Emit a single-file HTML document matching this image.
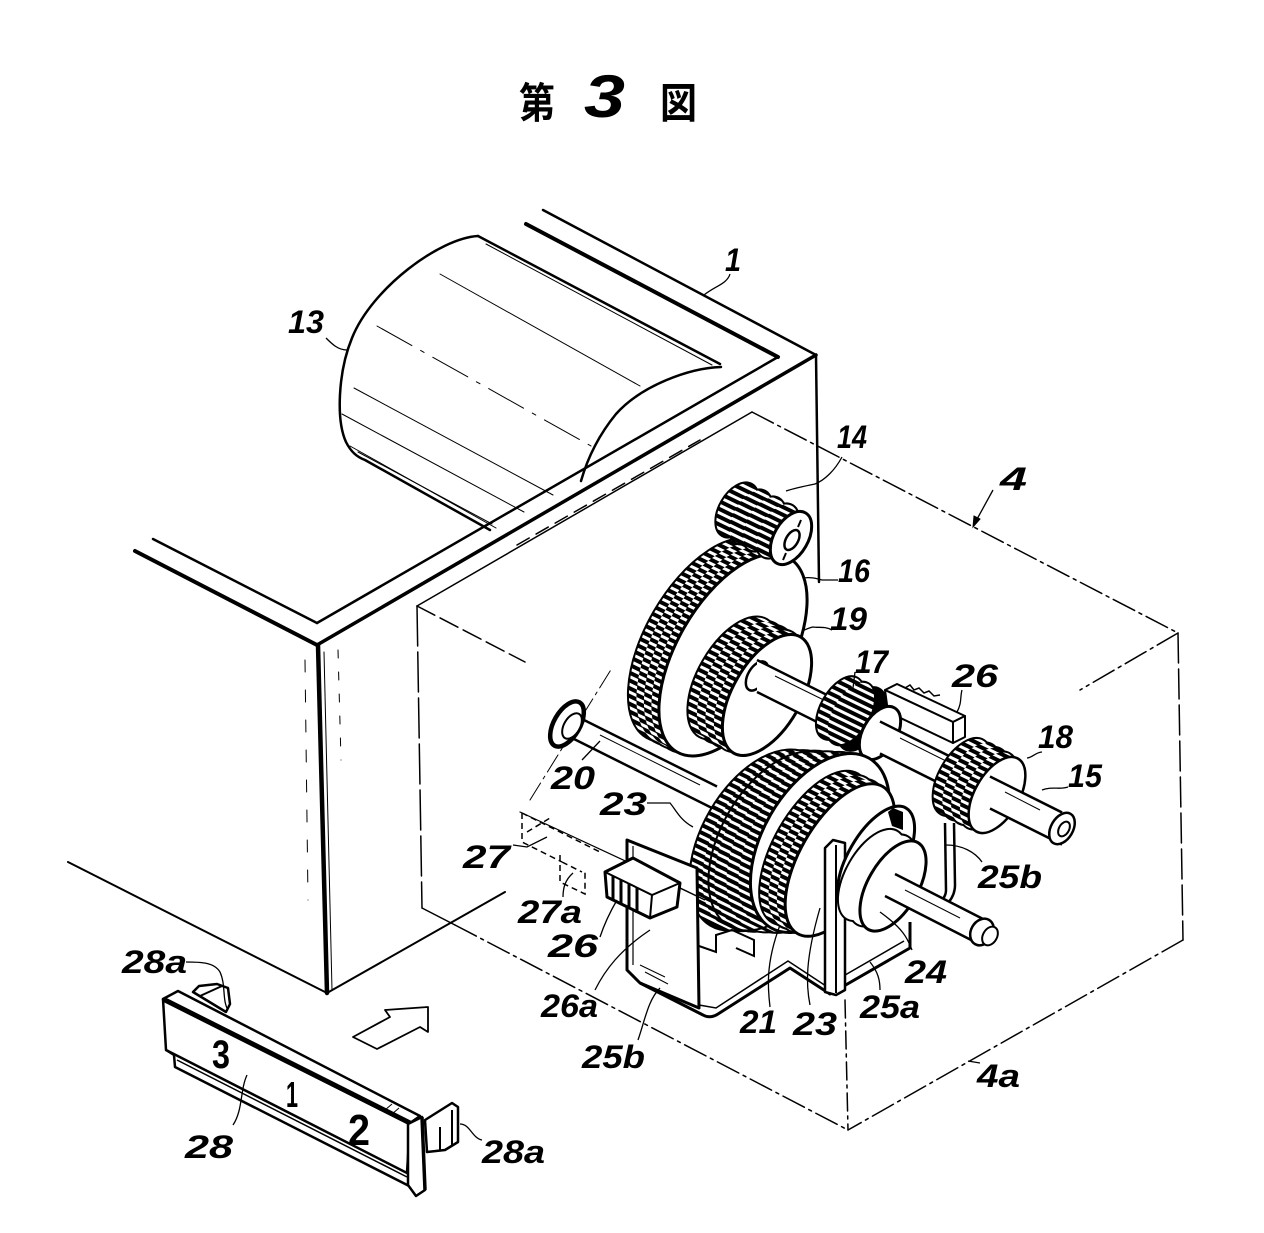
<!DOCTYPE html>
<html><head><meta charset="utf-8">
<style>
html,body{margin:0;padding:0;background:#fff;width:1264px;height:1233px;overflow:hidden}
svg{display:block}
.l{font-family:"Liberation Sans",sans-serif;font-weight:bold;font-style:italic;font-size:32px;fill:#000}
</style></head>
<body>
<svg width="1264" height="1233" viewBox="0 0 1264 1233" xmlns="http://www.w3.org/2000/svg">
<defs>
<pattern id="t" width="7" height="7" patternUnits="userSpaceOnUse" patternTransform="rotate(-4)">
<rect width="7" height="7" fill="#000"/>
<rect y="2" width="7" height="3" fill="#fff"/>
</pattern>
</defs>
<rect width="1264" height="1233" fill="#fff"/>

<!-- Title -->
<text x="519" y="118" font-family="'Liberation Sans','Noto Sans CJK JP',sans-serif" font-weight="bold" font-size="42" textLength="36" lengthAdjust="spacingAndGlyphs">第</text>
<text x="584" y="117" font-family="'Liberation Sans',sans-serif" font-style="italic" font-weight="bold" font-size="60" textLength="41" lengthAdjust="spacingAndGlyphs">3</text>
<text x="660" y="118" font-family="'Liberation Sans','Noto Sans CJK JP',sans-serif" font-weight="bold" font-size="42" textLength="37" lengthAdjust="spacingAndGlyphs">図</text>

<g fill="none" stroke="#000" stroke-linecap="round" stroke-linejoin="round">
<!-- Box 4 (dash-dot outline) -->
<g stroke-width="1.5">
<path d="M417,606 L752,412"/>
<path d="M752,412 L1178,633" stroke-dasharray="24 5 3 5"/>
<path d="M1178,633 L1183,940" stroke-dasharray="30 6"/>
<path d="M1178,633 L1080,690" stroke-dasharray="24 5 3 5"/>
<path d="M1183,940 L848,1130" stroke-dasharray="24 5 3 5"/>
<path d="M845,1000 L848,1130" stroke-dasharray="18 5 3 5"/>
<path d="M422,908 L455,925"/>
<path d="M455,925 L848,1130" stroke-dasharray="24 5 3 5"/>
<path d="M417,606 L422,908" stroke-dasharray="40 6"/>
<path d="M417,606 L525,662" stroke-dasharray="20 6"/>
<path d="M517,545 L700,440" stroke-dasharray="14 8"/>
<path d="M530,800 L612,668" stroke-dasharray="20 5 3 5" stroke-width="1"/>
<path d="M520,812 L705,898" stroke-width="1.2"/>
</g>

<!-- Box 1 -->
<path d="M543,210 L816,355" stroke-width="2.5"/>
<path d="M317,645 L816,355" stroke-width="3.5"/>
<path d="M135,551 L317,645" stroke-width="4"/>
<path d="M153,539 L317,623" stroke-width="2.5"/>
<path d="M317,623 L778,357" stroke-width="2.5"/>
<path d="M526,224 L778,357" stroke-width="4"/>
<path d="M816,355 L819,582" stroke-width="2.5"/>
<path d="M318,645 L327,993" stroke-width="4.5"/>
<path d="M324,652 L332,990" stroke-width="1"/>
<path d="M68,862 L327,993" stroke-width="2"/>
<path d="M327,993 L505,892" stroke-width="2"/>
<path d="M305,660 L308,900" stroke-width="1" stroke-dasharray="12 18"/>
<path d="M338,650 L341,760" stroke-width="1" stroke-dasharray="8 14"/>

<!-- Cylinder 13 -->
<path d="M478,236 C440,238 372,288 352,338 C338,372 336,420 346,442 C351,452 357,457 365,460 L490,530" stroke-width="2.5"/>
<path d="M478,236 L720,364" stroke-width="2.5"/>
<path d="M486,244 L712,365" stroke-width="1"/>
<path d="M721,367 C690,368 642,385 616,414 C598,436 587,460 581,481" stroke-width="2.5"/>
<g stroke-width="1">
<path d="M440,274 L640,386"/>
<path d="M377,326 L591,446" stroke-dasharray="40 10 4 10"/>
<path d="M354,388 L553,495"/>
<path d="M342,414 L524,512"/>
<path d="M350,446 L496,528"/>
<path d="M358,452 L492,524"/>
</g>
</g>

<!-- Gear 16 -->
<g stroke="#000" stroke-width="4" fill="#000">
<ellipse cx="703" cy="640" rx="56" ry="112" transform="rotate(30 703 640)"/>
<ellipse cx="710.5" cy="643.75" rx="56" ry="112" transform="rotate(30 710.5 643.75)"/>
<ellipse cx="718" cy="647.5" rx="56" ry="112" transform="rotate(30 718 647.5)"/>
<ellipse cx="725.5" cy="651.25" rx="56" ry="112" transform="rotate(30 725.5 651.25)"/>
</g>
<g fill="url(#t)">
<ellipse cx="703" cy="640" rx="56" ry="112" transform="rotate(30 703 640)"/>
<ellipse cx="710.5" cy="643.75" rx="56" ry="112" transform="rotate(30 710.5 643.75)"/>
<ellipse cx="718" cy="647.5" rx="56" ry="112" transform="rotate(30 718 647.5)"/>
<ellipse cx="725.5" cy="651.25" rx="56" ry="112" transform="rotate(30 725.5 651.25)"/>
</g>
<ellipse cx="733" cy="655" rx="56" ry="112" transform="rotate(30 733 655)" fill="#fff" stroke="#000" stroke-width="3"/>

<!-- Pinion 14 -->
<g stroke="#000" stroke-width="4" fill="#000">
<ellipse cx="737" cy="510" rx="17" ry="29" transform="rotate(30 737 510)"/>
<ellipse cx="750.5" cy="517" rx="17" ry="29" transform="rotate(30 750.5 517)"/>
<ellipse cx="764" cy="524" rx="17" ry="29" transform="rotate(30 764 524)"/>
<ellipse cx="777.5" cy="531" rx="17" ry="29" transform="rotate(30 777.5 531)"/>
</g>
<g fill="url(#t)">
<ellipse cx="737" cy="510" rx="17" ry="29" transform="rotate(30 737 510)"/>
<ellipse cx="750.5" cy="517" rx="17" ry="29" transform="rotate(30 750.5 517)"/>
<ellipse cx="764" cy="524" rx="17" ry="29" transform="rotate(30 764 524)"/>
<ellipse cx="777.5" cy="531" rx="17" ry="29" transform="rotate(30 777.5 531)"/>
</g>
<ellipse cx="791" cy="538" rx="17" ry="29" transform="rotate(30 791 538)" fill="#fff" stroke="#000" stroke-width="3"/>
<ellipse cx="792" cy="540" rx="6" ry="11" transform="rotate(30 792 540)" fill="#fff" stroke="#000" stroke-width="2.5"/>
<path d="M786,553 L783,560 M798,527 L801,520" stroke="#000" stroke-width="2"/>

<!-- Gear 19 -->
<g stroke="#000" stroke-width="4" fill="#000">
<ellipse cx="733" cy="678" rx="34" ry="67" transform="rotate(30 733 678)"/>
<ellipse cx="741.5" cy="682.3" rx="34" ry="67" transform="rotate(30 741.5 682.3)"/>
<ellipse cx="750" cy="686.5" rx="34" ry="67" transform="rotate(30 750 686.5)"/>
<ellipse cx="758.5" cy="690.8" rx="34" ry="67" transform="rotate(30 758.5 690.8)"/>
</g>
<g fill="url(#t)">
<ellipse cx="733" cy="678" rx="34" ry="67" transform="rotate(30 733 678)"/>
<ellipse cx="741.5" cy="682.3" rx="34" ry="67" transform="rotate(30 741.5 682.3)"/>
<ellipse cx="750" cy="686.5" rx="34" ry="67" transform="rotate(30 750 686.5)"/>
<ellipse cx="758.5" cy="690.8" rx="34" ry="67" transform="rotate(30 758.5 690.8)"/>
</g>
<ellipse cx="767" cy="695" rx="34" ry="67" transform="rotate(30 767 695)" fill="#fff" stroke="#000" stroke-width="3"/>

<!-- Shaft 15 -->
<ellipse cx="757" cy="676" rx="9" ry="16" transform="rotate(30 757 676)" fill="#fff" stroke="#000" stroke-width="2.5"/>
<polygon points="757,660 1062,812.5 1062,844.5 757,692" fill="#fff"/>
<path d="M757,660 L1062,812.5 M757,692 L1062,844.5" stroke="#000" stroke-width="2.5" fill="none"/>
<path d="M775,676 L840,708" stroke="#000" stroke-width="1" fill="none"/>

<!-- Gear 17 -->
<g stroke="#000" stroke-width="4" fill="#000">
<ellipse cx="840" cy="708" rx="18" ry="34" transform="rotate(30 840 708)"/>
<ellipse cx="851" cy="713.5" rx="18" ry="34" transform="rotate(30 851 713.5)"/>
<ellipse cx="862" cy="719" rx="18" ry="34" transform="rotate(30 862 719)"/>
</g>
<g fill="url(#t)">
<ellipse cx="840" cy="708" rx="18" ry="34" transform="rotate(30 840 708)"/>
<ellipse cx="851" cy="713.5" rx="18" ry="34" transform="rotate(30 851 713.5)"/>
</g>

<!-- Block 26 (upper) -->
<g fill="#fff" stroke="#000" stroke-width="2" stroke-linejoin="round">
<polygon points="885,690 897,684 965,716 953,722"/>
<polygon points="885,690 953,722 953,743 888,712"/>
<polygon points="953,722 965,716 965,737 953,743"/>
</g>
<path d="M905,688 L910,685 L914,690 L919,688 L924,693 L929,691 L934,696 L940,695" stroke="#000" stroke-width="1.5" fill="none"/>

<!-- Collar -->
<ellipse cx="880" cy="733" rx="17" ry="29" transform="rotate(30 880 733)" fill="#fff" stroke="#000" stroke-width="3"/>
<polygon points="880,721.5 990,776.5 990,808.5 880,753.5" fill="#fff"/>
<path d="M880,721.5 L990,776.5 M880,753.5 L990,808.5" stroke="#000" stroke-width="2.5" fill="none"/>
<path d="M900,738 L950,763" stroke="#000" stroke-width="1" fill="none"/>

<!-- Gear 18 -->
<g stroke="#000" stroke-width="4" fill="#000">
<ellipse cx="962" cy="777" rx="22" ry="42" transform="rotate(30 962 777)"/>
<ellipse cx="970.75" cy="781.5" rx="22" ry="42" transform="rotate(30 970.75 781.5)"/>
<ellipse cx="979.5" cy="786" rx="22" ry="42" transform="rotate(30 979.5 786)"/>
<ellipse cx="988.25" cy="790.5" rx="22" ry="42" transform="rotate(30 988.25 790.5)"/>
</g>
<g fill="url(#t)">
<ellipse cx="962" cy="777" rx="22" ry="42" transform="rotate(30 962 777)"/>
<ellipse cx="970.75" cy="781.5" rx="22" ry="42" transform="rotate(30 970.75 781.5)"/>
<ellipse cx="979.5" cy="786" rx="22" ry="42" transform="rotate(30 979.5 786)"/>
<ellipse cx="988.25" cy="790.5" rx="22" ry="42" transform="rotate(30 988.25 790.5)"/>
</g>
<ellipse cx="997" cy="795" rx="22" ry="42" transform="rotate(30 997 795)" fill="#fff" stroke="#000" stroke-width="2.5"/>
<polygon points="990,776.5 1062,812.5 1062,844.5 990,808.5" fill="#fff"/>
<path d="M990,776.5 L1062,812.5 M990,808.5 L1062,844.5" stroke="#000" stroke-width="2.5" fill="none"/>
<path d="M1005,792 L1040,810" stroke="#000" stroke-width="1" fill="none"/>
<ellipse cx="1062" cy="828.5" rx="11" ry="17" transform="rotate(30 1062 828.5)" fill="#fff" stroke="#000" stroke-width="2.5"/>
<ellipse cx="1064" cy="829" rx="5" ry="8" transform="rotate(30 1064 829)" fill="#fff" stroke="#000" stroke-width="2"/>

<!-- Rod 20 -->
<polygon points="570,713 717,786.5 717,810.5 570,737" fill="#fff"/>
<path d="M570,713 L717,786.5 M570,737 L717,810.5" stroke="#000" stroke-width="2.5" fill="none"/>
<path d="M600,735 L700,785" stroke="#000" stroke-width="1" fill="none"/>
<ellipse cx="567" cy="724" rx="13" ry="25" transform="rotate(30 567 724)" fill="#fff" stroke="#000" stroke-width="4.5"/>
<ellipse cx="572" cy="726" rx="8" ry="14" transform="rotate(30 572 726)" fill="#fff" stroke="#000" stroke-width="2"/>

<!-- Dashed 27 -->
<g fill="none" stroke="#000" stroke-width="1.5" stroke-dasharray="6 4">
<path d="M522,813 L522,842 L562,862"/>
<path d="M522,813 L600,852"/>
<path d="M527,832 L550,818"/>
<path d="M560,855 L560,882 L585,894 L585,870"/>
<path d="M562,862 L582,872"/>
</g>

<!-- Gear 23 -->
<g stroke="#000" stroke-width="4" fill="#000">
<ellipse cx="760" cy="840" rx="57" ry="98" transform="rotate(30 760 840)"/>
<ellipse cx="772" cy="840.6" rx="57" ry="98" transform="rotate(30 772 840.6)"/>
<ellipse cx="784" cy="841.2" rx="57" ry="98" transform="rotate(30 784 841.2)"/>
<ellipse cx="796" cy="841.8" rx="57" ry="98" transform="rotate(30 796 841.8)"/>
<ellipse cx="808" cy="842.4" rx="57" ry="98" transform="rotate(30 808 842.4)"/>
</g>
<g fill="url(#t)">
<ellipse cx="760" cy="840" rx="57" ry="98" transform="rotate(30 760 840)"/>
<ellipse cx="772" cy="840.6" rx="57" ry="98" transform="rotate(30 772 840.6)"/>
<ellipse cx="784" cy="841.2" rx="57" ry="98" transform="rotate(30 784 841.2)"/>
<ellipse cx="796" cy="841.8" rx="57" ry="98" transform="rotate(30 796 841.8)"/>
<ellipse cx="808" cy="842.4" rx="57" ry="98" transform="rotate(30 808 842.4)"/>
</g>
<ellipse cx="778" cy="841" rx="57" ry="98" transform="rotate(30 778 841)" fill="none" stroke="#000" stroke-width="2"/>
<ellipse cx="820" cy="843" rx="57" ry="98" transform="rotate(30 820 843)" fill="#fff" stroke="#000" stroke-width="3"/>

<!-- Gear 21 -->
<g stroke="#000" stroke-width="4" fill="#000">
<ellipse cx="815" cy="848" rx="40" ry="85" transform="rotate(30 815 848)"/>
<ellipse cx="823.3" cy="852" rx="40" ry="85" transform="rotate(30 823.3 852)"/>
<ellipse cx="831.7" cy="856" rx="40" ry="85" transform="rotate(30 831.7 856)"/>
</g>
<g fill="url(#t)">
<ellipse cx="815" cy="848" rx="40" ry="85" transform="rotate(30 815 848)"/>
<ellipse cx="823.3" cy="852" rx="40" ry="85" transform="rotate(30 823.3 852)"/>
<ellipse cx="831.7" cy="856" rx="40" ry="85" transform="rotate(30 831.7 856)"/>
</g>
<ellipse cx="840" cy="860" rx="40" ry="85" transform="rotate(30 840 860)" fill="#fff" stroke="#000" stroke-width="3"/>

<!-- Bracket 25a / 25b -->
<polygon points="627,840 697,868 699,1008 640,983 627,970" fill="#fff" stroke="#000" stroke-width="3" stroke-linejoin="round"/>
<path d="M633,846 L633,965" stroke="#000" stroke-width="1.2" fill="none"/>
<path d="M640,983 L703,1015 Q710,1019 718,1014 L790,968 L830,994 L910,948 L910,922" stroke="#000" stroke-width="3" fill="none" stroke-linejoin="round"/>
<path d="M699,1005 L716,1008 L788,961 L826,986 L904,941" stroke="#000" stroke-width="1.5" fill="none"/>
<path d="M699,946 L716,952 L716,935 L732,930 L754,940 L754,956 L736,948" stroke="#000" stroke-width="2" fill="none"/>
<path d="M640,965 L665,977 M645,972 L668,984" stroke="#000" stroke-width="1" fill="none"/>
<polygon points="825,848 833,840 845,843 845,990 836,995 825,992" fill="#fff" stroke="#000" stroke-width="2.5" stroke-linejoin="round"/>
<path d="M836,845 L836,993" stroke="#000" stroke-width="2" fill="none"/>

<!-- Upper 25b strip -->
<path d="M945,823 L946,890 Q946,898 938,903 M954,823 L955,885 Q955,897 945,906" stroke="#000" stroke-width="2.5" fill="none"/>

<!-- Pulley 24 -->
<ellipse cx="876" cy="860" rx="28" ry="60" transform="rotate(30 876 860)" fill="#fff" stroke="#000" stroke-width="3"/>
<g stroke="#000" stroke-width="4" fill="#000">
<ellipse cx="872" cy="875" rx="25" ry="50" transform="rotate(30 872 875)"/>
<ellipse cx="882.5" cy="880.5" rx="25" ry="50" transform="rotate(30 882.5 880.5)"/>
</g>
<g fill="#fff">
<ellipse cx="872" cy="875" rx="25" ry="50" transform="rotate(30 872 875)"/>
<ellipse cx="882.5" cy="880.5" rx="25" ry="50" transform="rotate(30 882.5 880.5)"/>
</g>
<ellipse cx="893" cy="886" rx="25" ry="50" transform="rotate(30 893 886)" fill="#fff" stroke="#000" stroke-width="3"/>
<path d="M888,812 L893,808 L903,812 L903,830 L892,826 Z" fill="#000"/>

<!-- Lower shaft -->
<polygon points="895,874 987,921 977,943 885,896" fill="#fff"/>
<path d="M895,874 L987,921 M885,896 L977,943" stroke="#000" stroke-width="2.5" fill="none"/>
<path d="M905,890 L960,918" stroke="#000" stroke-width="1" fill="none"/>
<ellipse cx="982" cy="932" rx="11" ry="14" transform="rotate(30 982 932)" fill="#fff" stroke="#000" stroke-width="2.5"/>
<ellipse cx="990" cy="936" rx="7" ry="10" transform="rotate(30 990 936)" fill="#fff" stroke="#000" stroke-width="2"/>

<!-- Switch 26 (lower) -->
<polygon points="605,872 633,858 680,883 677,907 650,918 607,897" fill="#fff" stroke="#000" stroke-width="3" stroke-linejoin="round"/>
<path d="M605,872 L652,895 L680,883 M652,895 L650,918" stroke="#000" stroke-width="2" fill="none"/>
<path d="M613,876 L613,901 M621,880 L621,905 M629,884 L629,909 M637,888 L637,913" stroke="#000" stroke-width="3" fill="none"/>
<path d="M680,888 L705,900" stroke="#000" stroke-width="1.5" fill="none"/>

<!-- Tray 28 -->
<g stroke="#000" stroke-linejoin="round">
<polygon points="163,999 410,1123 407,1173 166,1050" fill="#fff" stroke-width="2.5"/>
<polygon points="163,999 178,991 420,1116 410,1123" fill="#fff" stroke-width="2.5"/>
<path d="M163,999 L410,1123" stroke-width="5" fill="none"/>
<path d="M166,1050 L174,1055 L175,1067 L417,1190" stroke-width="2.5" fill="none"/>
<path d="M177,1060 L407,1177" stroke-width="1.5" fill="none"/>
<polygon points="408,1124 422,1117 425,1190 416,1196 408,1185" fill="#fff" stroke-width="2.5"/>
<path d="M422,1117 L425,1190" stroke-width="3.5" fill="none"/>
<polygon points="425,1120 452,1103 458,1107 458,1142 445,1150 427,1152" fill="#fff" stroke-width="2.5"/>
<path d="M440,1127 L440,1150 M452,1110 L452,1146" stroke-width="2" fill="none"/>
<polygon points="193,992 199,986 217,984 228,988 230,1004 226,1012" fill="#fff" stroke-width="2.5"/>
<path d="M200,996 L222,986" stroke-width="2" fill="none"/>
<path d="M385,1110 L392,1104 M392,1114 L399,1108" stroke-width="1" fill="none"/>
</g>
<text x="212" y="1068" font-family="'Liberation Sans',sans-serif" font-weight="bold" font-size="40" textLength="18" lengthAdjust="spacingAndGlyphs">3</text>
<text x="286" y="1107" font-family="'Liberation Sans',sans-serif" font-weight="bold" font-size="36" textLength="12" lengthAdjust="spacingAndGlyphs">1</text>
<text x="348" y="1145" font-family="'Liberation Sans',sans-serif" font-weight="bold" font-size="44" textLength="22" lengthAdjust="spacingAndGlyphs">2</text>

<!-- Arrow -->
<polygon points="353,1037 390,1017 385,1010 428,1007 428,1032 420,1027 377,1049" fill="#fff" stroke="#000" stroke-width="1.8" stroke-linejoin="round"/>

<!-- Leaders -->
<g fill="none" stroke="#000" stroke-width="1.3">
<path d="M326,338 C332,344 338,350 347,350"/>
<path d="M730,274 C727,284 715,286 704,295"/>
<path d="M842,457 C835,470 825,480 815,484 C805,486 795,488 786,491"/>
<path d="M838,580 L822,580 C815,578 810,577 803,578"/>
<path d="M832,630 C825,626 818,628 813,627 C808,628 805,630 802,631"/>
<path d="M855,672 L853,688"/>
<path d="M962,690 C960,697 962,703 957,712"/>
<path d="M1042,752 C1036,752 1032,758 1027,758"/>
<path d="M1068,787 C1060,790 1052,786 1042,790"/>
<path d="M982,862 C975,852 962,845 946,845"/>
<path d="M582,760 L600,741"/>
<path d="M647,803 L670,803 C676,810 680,820 693,827"/>
<path d="M513,845 L527,847 L547,837"/>
<path d="M563,897 C563,888 565,880 573,873"/>
<path d="M600,937 C604,925 610,912 617,900"/>
<path d="M595,990 C605,970 620,950 650,930"/>
<path d="M638,1040 C645,1020 648,1000 660,988"/>
<path d="M770,1007 C768,990 765,965 780,925"/>
<path d="M810,1005 C806,985 805,960 820,908"/>
<path d="M880,990 C880,980 878,972 870,962"/>
<path d="M912,950 C908,940 905,930 880,912"/>
<path d="M980,1063 L968,1061"/>
<path d="M247,1075 C240,1090 243,1110 233,1125"/>
<path d="M186,962 C200,962 214,962 220,972 C226,985 222,1000 228,1010"/>
<path d="M460,1124 C470,1124 472,1138 482,1140"/>
<path d="M993,490 L976,521"/>
</g>
<polygon points="973,527 974,516 980,519" fill="#000" stroke="#000" stroke-width="1"/>

<!-- Labels -->
<text class="l" x="288" y="333" textLength="36" lengthAdjust="spacingAndGlyphs">13</text>
<text class="l" x="725" y="271" font-size="34" textLength="16" lengthAdjust="spacingAndGlyphs">1</text>
<text class="l" x="837" y="448" textLength="30" lengthAdjust="spacingAndGlyphs">14</text>
<text class="l" x="1000" y="490" textLength="27" lengthAdjust="spacingAndGlyphs">4</text>
<text class="l" x="838" y="582" textLength="32" lengthAdjust="spacingAndGlyphs">16</text>
<text class="l" x="830" y="630" textLength="37" lengthAdjust="spacingAndGlyphs">19</text>
<text class="l" x="855" y="673" textLength="33" lengthAdjust="spacingAndGlyphs">17</text>
<text class="l" x="952" y="687" textLength="46" lengthAdjust="spacingAndGlyphs">26</text>
<text class="l" x="1038" y="748" textLength="35" lengthAdjust="spacingAndGlyphs">18</text>
<text class="l" x="1068" y="787" textLength="34" lengthAdjust="spacingAndGlyphs">15</text>
<text class="l" x="551" y="789" textLength="44" lengthAdjust="spacingAndGlyphs">20</text>
<text class="l" x="600" y="815" textLength="47" lengthAdjust="spacingAndGlyphs">23</text>
<text class="l" x="463" y="868" textLength="47" lengthAdjust="spacingAndGlyphs">27</text>
<text class="l" x="518" y="923" textLength="64" lengthAdjust="spacingAndGlyphs">27a</text>
<text class="l" x="548" y="957" textLength="50" lengthAdjust="spacingAndGlyphs">26</text>
<text class="l" x="541" y="1017" textLength="57" lengthAdjust="spacingAndGlyphs">26a</text>
<text class="l" x="582" y="1068" textLength="63" lengthAdjust="spacingAndGlyphs">25b</text>
<text class="l" x="740" y="1033" textLength="37" lengthAdjust="spacingAndGlyphs">21</text>
<text class="l" x="793" y="1035" textLength="44" lengthAdjust="spacingAndGlyphs">23</text>
<text class="l" x="860" y="1018" textLength="60" lengthAdjust="spacingAndGlyphs">25a</text>
<text class="l" x="905" y="983" textLength="42" lengthAdjust="spacingAndGlyphs">24</text>
<text class="l" x="978" y="888" textLength="64" lengthAdjust="spacingAndGlyphs">25b</text>
<text class="l" x="977" y="1087" textLength="43" lengthAdjust="spacingAndGlyphs">4a</text>
<text class="l" x="122" y="973" textLength="65" lengthAdjust="spacingAndGlyphs">28a</text>
<text class="l" x="185" y="1158" textLength="48" lengthAdjust="spacingAndGlyphs">28</text>
<text class="l" x="482" y="1163" textLength="63" lengthAdjust="spacingAndGlyphs">28a</text>
</svg>
</body></html>
